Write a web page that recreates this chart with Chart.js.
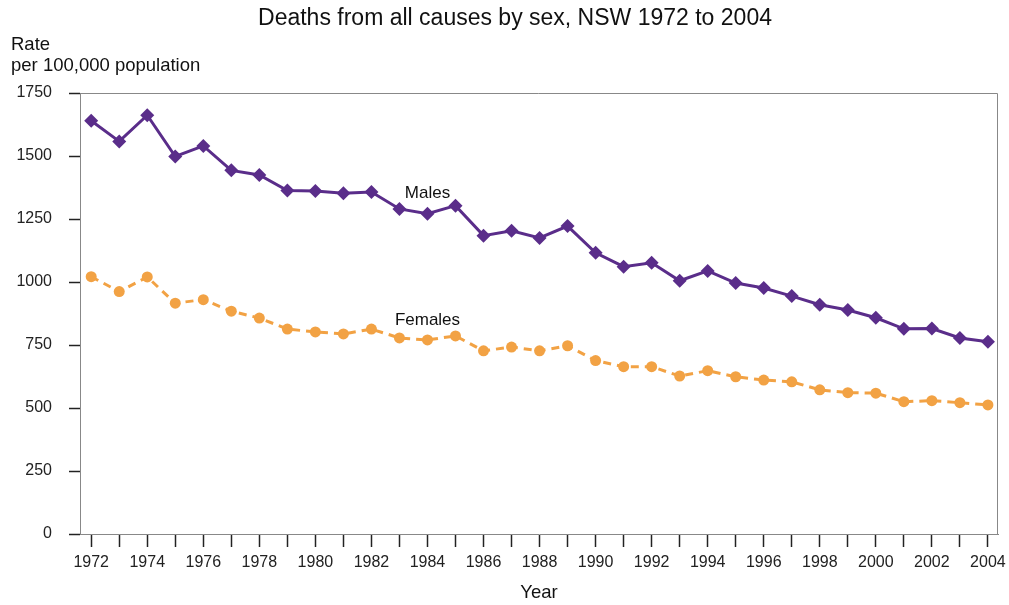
<!DOCTYPE html>
<html>
<head>
<meta charset="utf-8">
<script src="https://cdn.jsdelivr.net/npm/chart.js"></script>
<style>
  html, body { margin: 0; padding: 0; background: #fff; }
  #wrap { width: 1009px; height: 605px; }
</style>
</head>
<body>
<div id="wrap"><canvas id="deathsChart" width="1009" height="605"></canvas></div>
<script>
  // data
  var years = [1972, 1973, 1974, 1975, 1976, 1977, 1978, 1979, 1980, 1981, 1982, 1983, 1984, 1985, 1986, 1987, 1988,
               1989, 1990, 1991, 1992, 1993, 1994, 1995, 1996, 1997, 1998, 1999, 2000, 2001, 2002, 2003, 2004];
  var males = [1640, 1558, 1662, 1498, 1540, 1443, 1425, 1363, 1361, 1352, 1357, 1290, 1271, 1303, 1184, 1203, 1175,
               1222, 1116, 1061, 1076, 1005, 1044, 996, 976, 944, 910, 889, 858, 814, 815, 778, 763];
  var females = [1021, 962, 1020, 916, 930, 884, 857, 813, 802, 794, 813, 778, 770, 786, 727, 742, 727,
                 747, 688, 664, 664, 627, 648, 624, 611, 604, 572, 561, 559, 525, 529, 521, 512];
  var yTicks = [0, 250, 500, 750, 1000, 1250, 1500, 1750];

  var FONT = '"Liberation Sans", Arial, sans-serif';
  var purple = '#5a2d8a';
  var orange = '#f2a244';

  function toXY(vals) {
    var out = [];
    for (var i = 0; i < years.length; i++) {
      out.push({ x: years[i], y: vals[i] });
    }
    return out;
  }

  // frame, title, axis captions and series labels
  var extras = {
    id: 'extras',
    beforeDatasetsDraw: function(chart) {
      var c = chart.ctx, a = chart.chartArea;
      c.save();
      c.strokeStyle = '#888';
      c.lineWidth = 1;
      c.beginPath();
      c.moveTo(a.left, a.top + 0.5);
      c.lineTo(a.right - 0.5, a.top + 0.5);
      c.lineTo(a.right - 0.5, a.bottom);
      c.stroke();
      c.restore();
    },
    afterDraw: function(chart) {
      var c = chart.ctx;
      var xs = chart.scales.x, ys = chart.scales.y;
      c.save();
      c.fillStyle = '#111';
      c.textBaseline = 'middle';
      c.textAlign = 'center';
      c.font = '23px ' + FONT;
      c.fillText('Deaths from all causes by sex, NSW 1972 to 2004', 515, 19);
      c.font = '18.5px ' + FONT;
      c.fillText('Year', 539, 593);
      c.textAlign = 'left';
      c.fillText('Rate', 11, 45);
      c.fillText('per 100,000 population', 11, 66);
      c.font = '17px ' + FONT;
      c.textAlign = 'center';
      c.fillText('Males', xs.getPixelForValue(1984), ys.getPixelForValue(1353));
      c.fillText('Females', xs.getPixelForValue(1984), ys.getPixelForValue(849));
      c.restore();
    }
  };

  var ctx = document.getElementById('deathsChart').getContext('2d');
  var deathsChart = new Chart(ctx, {
    type: 'line',
    data: {
      datasets: [{
        label: 'Males',
        data: toXY(males),
        borderColor: purple,
        backgroundColor: purple,
        borderWidth: 3,
        pointStyle: 'rectRot',
        pointRadius: 7,
        pointBorderWidth: 0,
        tension: 0
      }, {
        label: 'Females',
        data: toXY(females),
        borderColor: orange,
        backgroundColor: orange,
        borderWidth: 3,
        borderDash: [8, 6],
        pointStyle: 'circle',
        pointRadius: 5.5,
        pointBorderWidth: 0,
        tension: 0
      }]
    },
    options: {
      responsive: false,
      animation: false,
      layout: { padding: { top: 93, right: 11, left: 0, bottom: 0 } },
      plugins: {
        legend: { display: false },
        tooltip: { enabled: false }
      },
      scales: {
        x: {
          type: 'linear',
          min: 1971.6,
          max: 2004.36,
          afterFit: function(scale) {
            scale.height = 71;
            scale.paddingLeft = 0;
            scale.paddingRight = 0;
          },
          afterBuildTicks: function(scale) {
            scale.ticks = years.map(function(y) { return { value: y }; });
          },
          border: { color: '#888', width: 1 },
          grid: { drawOnChartArea: false, tickLength: 13, color: '#222', tickWidth: 1.5 },
          ticks: {
            autoSkip: false,
            maxRotation: 0,
            padding: 6,
            color: '#222',
            font: { family: FONT, size: 16 },
            callback: function(v) { return v % 2 === 0 ? String(v) : ''; }
          }
        },
        y: {
          min: 0,
          max: 1750,
          afterFit: function(scale) {
            scale.width = 80;
            scale.paddingTop = 0;
            scale.paddingBottom = 0;
          },
          afterBuildTicks: function(scale) {
            scale.ticks = yTicks.map(function(v) { return { value: v }; });
          },
          border: { color: '#888', width: 1 },
          grid: { drawOnChartArea: false, tickLength: 11, color: '#222', tickWidth: 1.5 },
          ticks: {
            padding: 17,
            color: '#222',
            font: { family: FONT, size: 16 },
            callback: function(v) { return String(v); }
          }
        }
      }
    },
    plugins: [extras]
  });
</script>
</body>
</html>
